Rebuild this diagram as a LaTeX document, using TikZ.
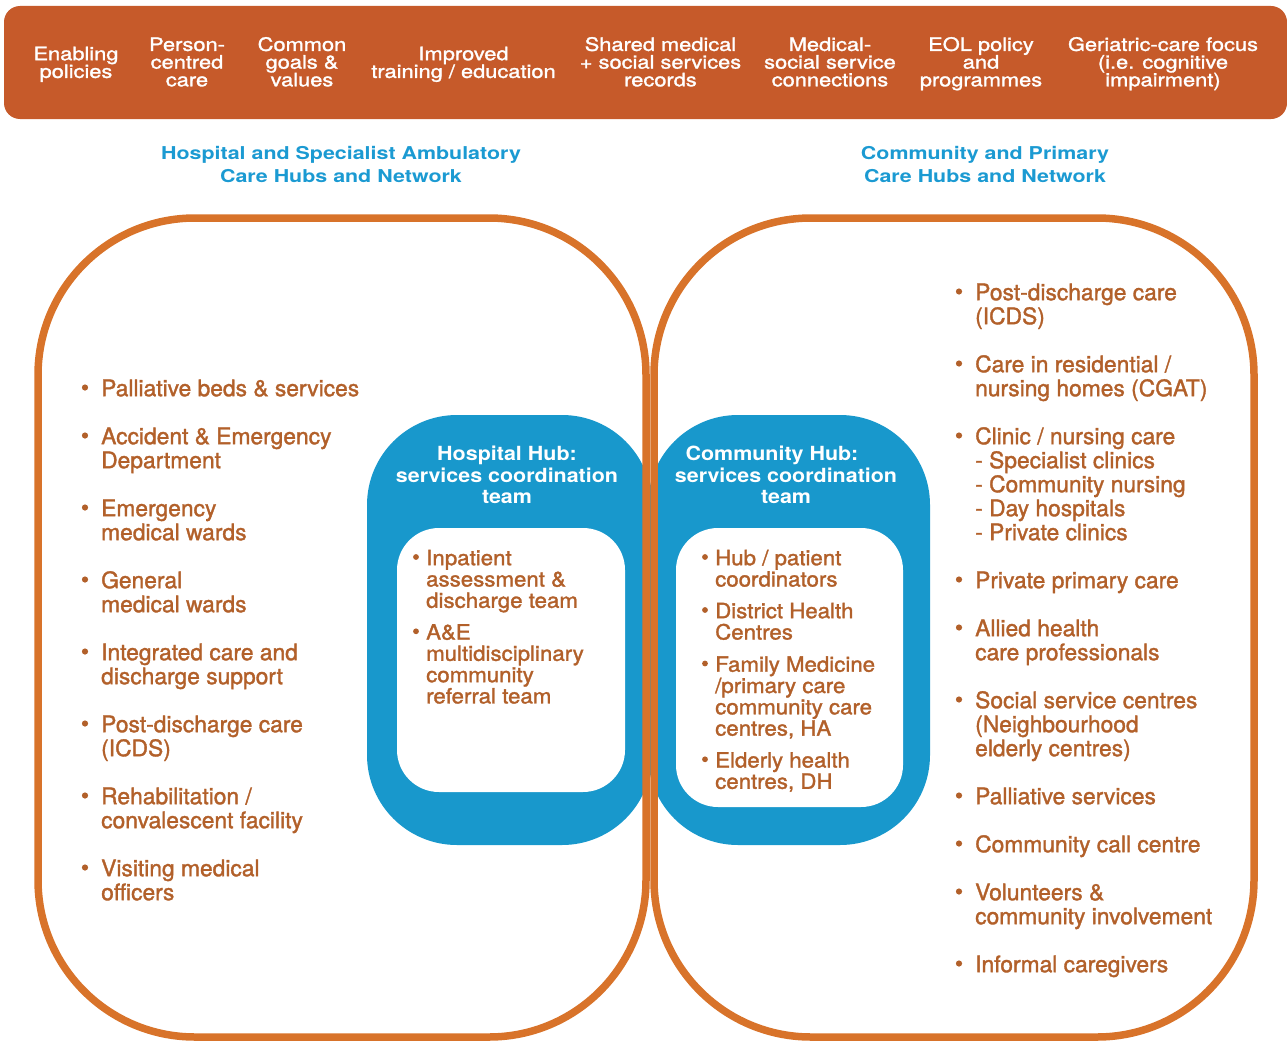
\documentclass[tikz,border=0pt]{standalone}
\usepackage{fontspec}
\setmainfont{TeX Gyre Heros}[RawFeature={embolden=1.5}]
\newfontfamily\hdrfont[FakeStretch=1.18,RawFeature={embolden=1.5}]{TeX Gyre Heros}
\newfontfamily\ttlfont[FakeStretch=1.21]{TeX Gyre Heros}
\newfontfamily\hubfont[FakeStretch=1.1]{TeX Gyre Heros}
\newfontfamily\innfont[FakeStretch=1.06,RawFeature={embolden=1.5}]{TeX Gyre Heros}
\definecolor{hdrbg}{HTML}{C65A2A}
\definecolor{outl}{HTML}{D8732A}
\definecolor{hubblue}{HTML}{1898CC}
\definecolor{ttlblue}{HTML}{1B9AD2}
\definecolor{txtbrown}{HTML}{B2602A}
\newcommand\topup[1]{\rule{0pt}{#1}}
\newcommand\putbullet[4]{\fill[txtbrown] ([xshift=#2,yshift=#3]#1.north west) circle (#4);}
\tikzset{
  hdr/.style={text=white, align=center, inner sep=0pt, anchor=north,
    font=\hdrfont\fontsize{18.5}{17.7}\selectfont},
  ttl/.style={text=ttlblue, align=center, inner sep=0pt, anchor=north,
    font=\ttlfont\bfseries\fontsize{17.7}{23.4}\selectfont},
  hubttl/.style={text=white, align=center, inner sep=0pt, anchor=north,
    font=\hubfont\bfseries\fontsize{19.5}{21.3}\selectfont},
  item/.style={text=txtbrown, align=left, inner sep=0pt, anchor=north west,
    font=\fontsize{22.8}{24}\selectfont},
  inn/.style={text=txtbrown, align=left, inner sep=0pt, anchor=north west,
    font=\innfont\fontsize{21}{21.3}\selectfont},
  ring/.style={draw=outl, line width=7.5pt, rounded corners=157pt},
}
\begin{document}
\begin{tikzpicture}[x=1pt,y=-1pt]
\useasboundingbox (0,0) rectangle (1287,1041);
% header band
\fill[hdrbg, rounded corners=16pt] (4,6) rectangle (1287,119);
% hubs
\fill[hubblue, rounded corners=90pt] (367,415) rectangle (652,845);
\fill[hubblue, rounded corners=90pt] (648,415) rectangle (930,845);
\fill[white, rounded corners=42pt] (397,528) rectangle (625,792);
\fill[white, rounded corners=42pt] (676,528) rectangle (903,807);
% rings
\draw[ring] (38,218) rectangle (646,1037);
\draw[ring] (654,218) rectangle (1254,1037);
% header texts (first baseline = y + 16)
\node[hdr] (h1) at (76,44) {\topup{16pt}Enabling\\policies};
\node[hdr] (h2) at (187,34.7) {\topup{16pt}Person-\\centred\\care};
\node[hdr] (h3) at (302,34.7) {\topup{16pt}Common\\goals \&\\values};
\node[hdr] (h4) at (463.5,44) {\topup{16pt}Improved\\training / education};
\node[hdr] (h5) at (660.5,34.7) {\topup{16pt}Shared medical\\+ social services\\records};
\node[hdr] (h6) at (830,34.7) {\topup{16pt}Medical-\\social service\\connections};
\node[hdr] (h7) at (981,34.7) {\topup{16pt}EOL policy\\and\\programmes};
\node[hdr] (h8) at (1163,34.7) {\topup{16pt}Geriatric-care focus\\(i.e. cognitive\\impairment)};
% titles (first baseline = y + 16)
\node[ttl] (t1) at (341,143.3) {\topup{16pt}Hospital and Specialist Ambulatory\\Care Hubs and Network};
\node[ttl] (t2) at (985,143.3) {\topup{16pt}Community and Primary\\Care Hubs and Network};
% hub titles (first baseline = y + 17)
\node[hubttl] (hh) at (507,443.7) {\topup{17pt}Hospital Hub:\\services coordination\\team};
\node[hubttl] (ch) at (786,443.7) {\topup{17pt}Community Hub:\hspace*{28pt}\\services coordination\\team};
% left list (first baseline = y + 20)
\node[item] (l1) at (101,376) {\topup{20pt}Palliative beds \& services};
\node[item] (l2) at (101,424) {\topup{20pt}Accident \& Emergency\\Department};
\node[item] (l3) at (101,496) {\topup{20pt}Emergency\\medical wards};
\node[item] (l4) at (101,568) {\topup{20pt}General\\medical wards};
\node[item] (l5) at (101,640) {\topup{20pt}Integrated care and\\discharge support};
\node[item] (l6) at (101,712) {\topup{20pt}Post-discharge care\\(ICDS)};
\node[item] (l7) at (101,784) {\topup{20pt}Rehabilitation /\\convalescent facility};
\node[item] (l8) at (101,856) {\topup{20pt}Visiting medical\\officers};
\foreach \n in {l1,l2,l3,l4,l5,l6,l7,l8} {\putbullet{\n}{-16pt}{-11.5pt}{3.1pt}}
% right list
\node[item] (r1) at (975,280) {\topup{20pt}Post-discharge care\\(ICDS)};
\node[item] (r2) at (975,352) {\topup{20pt}Care in residential /\\nursing homes (CGAT)};
\node[item] (r3) at (975,424) {\topup{20pt}Clinic / nursing care\\- Specialist clinics\\- Community nursing\\- Day hospitals\\- Private clinics};
\node[item] (r4) at (975,568) {\topup{20pt}Private primary care};
\node[item] (r5) at (975,616) {\topup{20pt}Allied health\\care professionals};
\node[item] (r6) at (975,688) {\topup{20pt}Social service centres\\(Neighbourhood\\elderly centres)};
\node[item] (r7) at (975,784) {\topup{20pt}Palliative services};
\node[item] (r8) at (975,832) {\topup{20pt}Community call centre};
\node[item] (r9) at (975,880) {\topup{20pt}Volunteers \&\\community involvement};
\node[item] (r10) at (975,952) {\topup{20pt}Informal caregivers};
\foreach \n in {r1,r2,r3,r4,r5,r6,r7,r8,r9,r10} {\putbullet{\n}{-16pt}{-11.5pt}{3.1pt}}
% hospital hub list (first baseline = y + 18)
\node[inn] (a1) at (426,547) {\topup{18pt}Inpatient\\assessment \&\\discharge team};
\node[inn] (a2) at (426,621.3) {\topup{18pt}A\&E\\multidisciplinary\\community\\referral team};
\foreach \n in {a1,a2} {\putbullet{\n}{-10pt}{-10pt}{2.9pt}}
% community hub list
\node[inn] (b1) at (715,547) {\topup{18pt}Hub / patient\\coordinators};
\node[inn] (b2) at (715,600) {\topup{18pt}District Health\\Centres};
\node[inn] (b3) at (715,653.5) {\topup{18pt}Family Medicine\\/primary care\\community care\\centres, HA};
\node[inn] (b4) at (715,749.3) {\topup{18pt}Elderly health\\centres, DH};
\foreach \n in {b1,b2,b3,b4} {\putbullet{\n}{-10pt}{-10pt}{2.9pt}}
\end{tikzpicture}
\end{document}
